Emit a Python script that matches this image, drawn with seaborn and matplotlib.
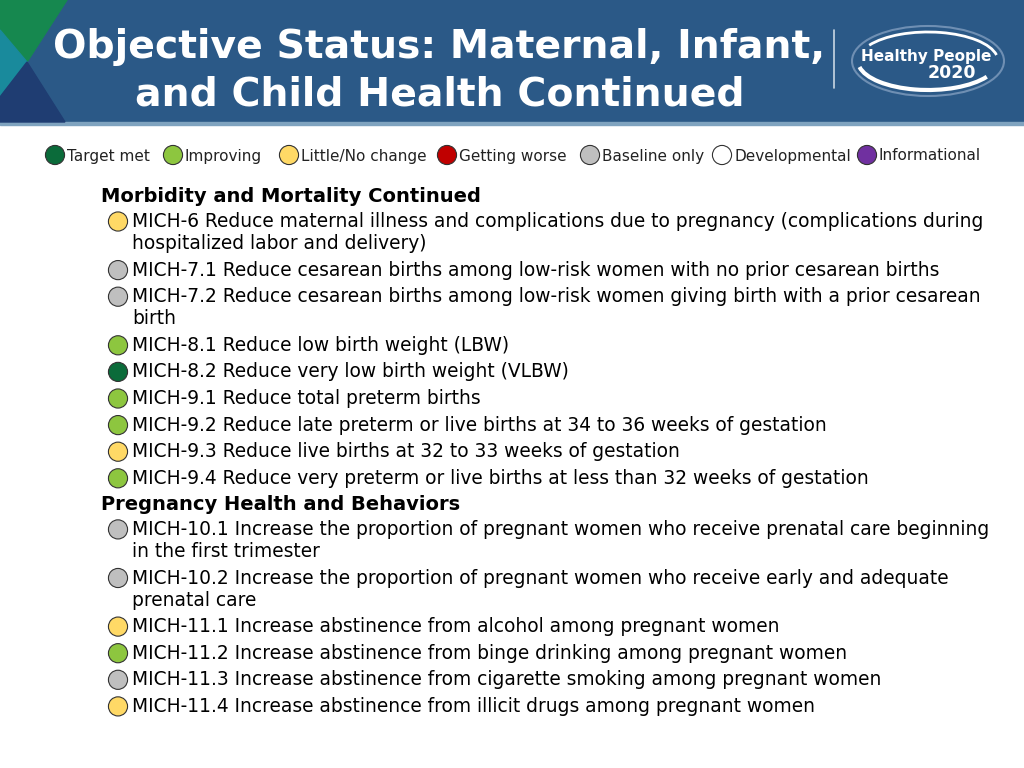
import matplotlib
matplotlib.use('Agg')
import pandas as pd
import seaborn as sns
import matplotlib.pyplot as plt
from matplotlib.patches import Polygon, Rectangle, Ellipse, Arc

# Legend categories and colours
statuses = ['Target met', 'Improving', 'Little/No change', 'Getting worse',
            'Baseline only', 'Developmental', 'Informational']
status_colors = ['#0b6b3a', '#8dc63f', '#ffd966', '#c00000',
                 '#bfbfbf', '#ffffff', '#7030a0']
legend_x = [55, 173, 289, 447, 590, 722, 867]

# Objectives: section index, status, text lines
sections = ['Morbidity and Mortality Continued', 'Pregnancy Health and Behaviors']
item_section = [0, 0, 0, 0, 0, 0, 0, 0, 0, 1, 1, 1, 1, 1, 1]
item_status = ['Little/No change', 'Baseline only', 'Baseline only', 'Improving',
               'Target met', 'Improving', 'Improving', 'Little/No change', 'Improving',
               'Baseline only', 'Baseline only', 'Little/No change', 'Improving',
               'Baseline only', 'Little/No change']
item_text = [
    ['MICH-6 Reduce maternal illness and complications due to pregnancy (complications during',
     'hospitalized labor and delivery)'],
    ['MICH-7.1 Reduce cesarean births among low-risk women with no prior cesarean births'],
    ['MICH-7.2 Reduce cesarean births among low-risk women giving birth with a prior cesarean',
     'birth'],
    ['MICH-8.1 Reduce low birth weight (LBW)'],
    ['MICH-8.2 Reduce very low birth weight (VLBW)'],
    ['MICH-9.1 Reduce total preterm births'],
    ['MICH-9.2 Reduce late preterm or live births at 34 to 36 weeks of gestation'],
    ['MICH-9.3 Reduce live births at 32 to 33 weeks of gestation'],
    ['MICH-9.4 Reduce very preterm or live births at less than 32 weeks of gestation'],
    ['MICH-10.1 Increase the proportion of pregnant women who receive prenatal care beginning',
     'in the first trimester'],
    ['MICH-10.2 Increase the proportion of pregnant women who receive early and adequate',
     'prenatal care'],
    ['MICH-11.1 Increase abstinence from alcohol among pregnant women'],
    ['MICH-11.2 Increase abstinence from binge drinking among pregnant women'],
    ['MICH-11.3 Increase abstinence from cigarette smoking among pregnant women'],
    ['MICH-11.4 Increase abstinence from illicit drugs among pregnant women'],
]

palette = dict(zip(statuses, status_colors))

sns.set_theme(style='white')
plt.rcParams['font.family'] = ['DejaVu Sans']

fig = plt.figure(figsize=(10.24, 7.68), dpi=100)
ax = fig.add_axes([0, 0, 1, 1])
fig.patch.set_facecolor('white')

# header band with the coloured corner shapes
ax.add_patch(Rectangle((0, 0), 1024, 122, color='#2b5987', zorder=0))
ax.add_patch(Rectangle((0, 122), 1024, 3, color='#7fa3bf', zorder=0))
ax.add_patch(Polygon([(0, 0), (67, 0), (27, 62), (0, 30)], color='#16884f', zorder=1))
ax.add_patch(Polygon([(0, 30), (27, 62), (0, 97)], color='#198a9c', zorder=1))
ax.add_patch(Polygon([(0, 97), (27, 62), (65, 122), (0, 122)], color='#1f3d72', zorder=1))

ax.text(439, 47, 'Objective Status: Maternal, Infant,', color='white', fontsize=28.4,
        fontweight='bold', ha='center', va='center', zorder=3)
ax.text(440, 95, 'and Child Health Continued', color='white', fontsize=28.4,
        fontweight='bold', ha='center', va='center', zorder=3)
ax.plot([834, 834], [30, 88], color='#c9d6e3', lw=1.2, zorder=3)

# logo
ax.add_patch(Ellipse((928, 61), 152, 70, fill=False, ec='#6f8fb3', lw=1.5, zorder=2))
ax.add_patch(Arc((928, 61), 140, 58, theta1=15, theta2=175, ec='white', lw=3, zorder=3))
ax.add_patch(Arc((928, 61), 140, 58, theta1=195, theta2=355, ec='white', lw=2, zorder=3))
ax.text(926, 56, 'Healthy People', color='white', fontsize=11, fontweight='bold',
        ha='center', va='center', zorder=4)
ax.text(952, 73, '2020', color='white', fontsize=12.5, fontweight='bold',
        ha='center', va='center', zorder=4)

# legend row
leg = pd.DataFrame({'x': legend_x, 'y': [155] * len(statuses), 'status': statuses})
sns.scatterplot(data=leg, x='x', y='y', hue='status', palette=palette, s=190,
                edgecolor='#333333', linewidth=0.8, legend=False, ax=ax, zorder=5)
for x, s in zip(legend_x, statuses):
    ax.text(x + 12, 156, s, fontsize=11, color='#222222', va='center', ha='left')

# list of objectives
rows = []
y = 197
prev_section = None
for sec, st, lines in zip(item_section, item_status, item_text):
    if sec != prev_section:
        ax.text(101, y, sections[sec], fontsize=14, fontweight='bold',
                color='black', va='center', ha='left')
        prev_section = sec
        y += 24.5
    rows.append({'x': 118, 'y': y, 'status': st})
    ax.text(132, y, lines[0], fontsize=13.4, color='black', va='center', ha='left')
    for extra in lines[1:]:
        y += 22
        ax.text(132, y, extra, fontsize=13.4, color='black', va='center', ha='left')
    y += 26.6

pts = pd.DataFrame(rows)
sns.scatterplot(data=pts, x='x', y='y', hue='status', palette=palette, s=190,
                edgecolor='#333333', linewidth=0.8, legend=False, ax=ax, zorder=5)

ax.set_xlim(0, 1024)
ax.set_ylim(768, 0)
ax.axis('off')

fig.savefig('out.png', dpi=100)
